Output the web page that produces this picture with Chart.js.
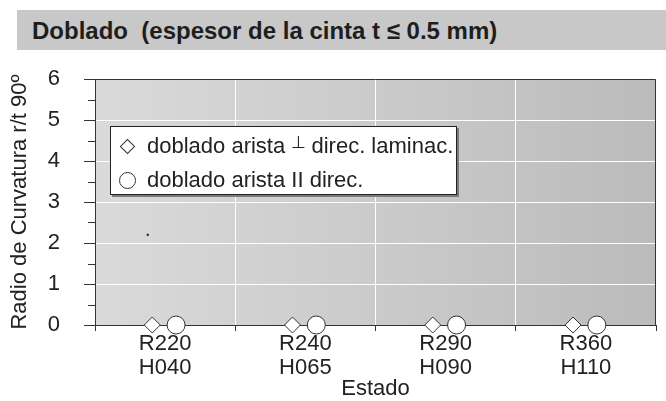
<!DOCTYPE html>
<html>
<head>
<meta charset="utf-8">
<script src="https://cdn.jsdelivr.net/npm/chart.js@4/dist/chart.umd.min.js"></script>
<style>
  html, body { margin: 0; padding: 0; background: #fff; }
  body { width: 666px; height: 401px; position: relative; overflow: hidden; font-family: "Liberation Sans", Arial, sans-serif; }
  #title { position: absolute; left: 17px; top: 10px; width: 649px; height: 40px; background: #c8c8c8; color: #1e1e1e;
           font-weight: bold; font-size: 24px; line-height: 42px; padding-left: 15px; box-sizing: border-box; white-space: nowrap; }
  #chart { position: absolute; left: 0; top: 0; }
  #legend { position: absolute; left: 110px; top: 126px; width: 347px; height: 69px; background: #fff; border: 1px solid #222;
            box-shadow: 2px 2px 0 #7a7a7a; box-sizing: border-box; font-size: 22px; color: #222; }
  #legend .row { position: absolute; left: 0; height: 34px; line-height: 34px; white-space: nowrap; }
  #legend .sym { position: absolute; box-sizing: border-box; border: 1px solid #333; background: #fff; }
  #legend .diamond { left: 11px; top: 12px; width: 11px; height: 11px; transform: rotate(45deg); }
  #legend .circle { left: 8px; top: 9px; width: 17px; height: 17px; border-radius: 50%; }
  #legend .txt { position: absolute; left: 36px; top: 0; }
  #legend .perp { font-size: 17px; position: relative; top: -5px; letter-spacing: -1px; }
</style>
</head>
<body>
<canvas id="chart" width="666" height="401"></canvas>
<div id="title">Doblado&nbsp; (espesor de la cinta t ≤ 0.5 mm)</div>
<div id="legend"></div>
<script>
// categories on the x axis (two text lines each)
const categories = [['R220', 'H040'], ['R240', 'H065'], ['R290', 'H090'], ['R360', 'H110']];
const seriesNames = ['doblado arista ⊥ direc. laminac.', 'doblado arista II direc.'];
const seriesSymbols = ['diamond', 'circle'];

// r/t values per category
const perpValues = [0, 0, 0, 0];
const paraValues = [0, 0, 0, 0];
// small stray point seen in the plot
const strayValues = [2.2, null, null, null];

const yMax = 6;

const toPoints = (vals, shift) =>
  vals.map((v, i) => (v === null ? null : { x: i + shift, y: v })).filter(p => p);

const clear = 'rgba(0,0,0,0)';
const dark = '#333';
const labelFont = { family: 'Liberation Sans', size: 22, lineHeight: '24px' };

const plotFrame = {
  id: 'plotFrame',
  beforeDraw(chart) {
    const { ctx, chartArea: a } = chart;
    const g = ctx.createLinearGradient(a.left, 0, a.right, 0);
    g.addColorStop(0, '#dadada');
    g.addColorStop(1, '#bbbbbb');
    ctx.save();
    ctx.fillStyle = g;
    ctx.fillRect(a.left, a.top, a.right - a.left, a.bottom - a.top);
    ctx.restore();
  },
  beforeDatasetsDraw(chart) {
    const { ctx, chartArea: a } = chart;
    const y = chart.scales.y;
    ctx.save();
    ctx.strokeStyle = dark;
    ctx.lineWidth = 1;
    // top and right edges of the plot
    ctx.beginPath();
    ctx.moveTo(a.left, a.top + 0.5);
    ctx.lineTo(a.right - 0.5, a.top + 0.5);
    ctx.lineTo(a.right - 0.5, a.bottom);
    ctx.stroke();
    // short minor ticks at the half steps
    y.ticks.forEach(t => {
      if (t.value % 1 !== 0) {
        const py = Math.round(y.getPixelForValue(t.value)) + 0.5;
        ctx.beginPath();
        ctx.moveTo(a.left - 7, py);
        ctx.lineTo(a.left, py);
        ctx.stroke();
      }
    });
    ctx.restore();
  }
};

const chart = new Chart(document.getElementById('chart').getContext('2d'), {
  type: 'scatter',
  data: {
    datasets: [
      {
        label: seriesNames[0],
        data: toPoints(perpValues, -0.092),
        pointStyle: 'rectRot',
        pointRadius: 8,
        pointBackgroundColor: '#fff',
        pointBorderColor: dark,
        pointBorderWidth: 1,
        clip: false
      },
      {
        label: seriesNames[1],
        data: toPoints(paraValues, 0.078),
        pointStyle: 'circle',
        pointRadius: 9,
        pointBackgroundColor: '#fff',
        pointBorderColor: dark,
        pointBorderWidth: 1,
        clip: false
      },
      {
        label: '',
        data: toPoints(strayValues, -0.124),
        pointStyle: 'rect',
        pointRadius: 1.5,
        pointBackgroundColor: '#222',
        pointBorderWidth: 0
      }
    ]
  },
  options: {
    responsive: false,
    animation: false,
    events: [],
    devicePixelRatio: 1,
    layout: { padding: { top: 79, right: 5, left: 0, bottom: 0 } },
    plugins: { legend: { display: false }, tooltip: { enabled: false } },
    scales: {
      x: {
        type: 'linear',
        min: -0.5,
        max: categories.length - 0.5,
        afterBuildTicks: s => {
          const t = [];
          for (let v = -0.5; v <= categories.length - 0.5; v += 0.5) t.push({ value: v });
          s.ticks = t;
        },
        afterFit: s => { s.height = 76; },
        grid: {
          color: c => (c.tick && c.tick.value % 1 !== 0 && c.tick.value > -0.5 && c.tick.value < categories.length - 0.5) ? '#fff' : clear,
          tickColor: c => (c.tick && c.tick.value % 1 !== 0) ? dark : clear,
          tickLength: 6
        },
        border: { color: dark, width: 1 },
        ticks: {
          autoSkip: false,
          maxRotation: 0,
          padding: 1,
          color: '#222',
          font: labelFont,
          callback: v => (Number.isInteger(v) ? categories[v] : '')
        },
        title: {
          display: true,
          text: 'Estado',
          color: '#222',
          font: labelFont,
          padding: 0
        }
      },
      y: {
        min: 0,
        max: yMax,
        afterBuildTicks: s => {
          const t = [];
          for (let v = 0; v <= yMax; v += 0.5) t.push({ value: v });
          s.ticks = t;
        },
        afterFit: s => { s.width = 95; },
        grid: {
          color: c => (c.tick && Number.isInteger(c.tick.value) && c.tick.value > 0 && c.tick.value < yMax) ? '#fff' : clear,
          tickColor: c => (c.tick && Number.isInteger(c.tick.value)) ? dark : clear,
          tickLength: 11
        },
        border: { color: dark, width: 1 },
        ticks: {
          autoSkip: false,
          padding: 24,
          color: '#222',
          font: { family: 'Liberation Sans', size: 22 },
          callback: v => (Number.isInteger(v) ? v : '')
        },
        title: {
          display: true,
          text: 'Radio de Curvatura r/t 90º',
          color: '#222',
          font: labelFont,
          padding: { top: 8, bottom: 0 }
        }
      }
    }
  },
  plugins: [plotFrame]
});

// legend box built from the chart's own datasets
const legendEl = document.getElementById('legend');
chart.data.datasets.slice(0, seriesNames.length).forEach((ds, i) => {
  const row = document.createElement('div');
  row.className = 'row';
  row.style.top = (2 + i * 34) + 'px';
  const sym = document.createElement('span');
  sym.className = 'sym ' + seriesSymbols[i];
  const txt = document.createElement('span');
  txt.className = 'txt';
  // the perpendicular sign sits small and raised, as in the source
  ds.label.split(/(⊥)/).forEach(part => {
    const s = document.createElement('span');
    if (part === '⊥') s.className = 'perp';
    s.textContent = part;
    txt.appendChild(s);
  });
  row.appendChild(sym);
  row.appendChild(txt);
  legendEl.appendChild(row);
});
</script>
</body>
</html>
